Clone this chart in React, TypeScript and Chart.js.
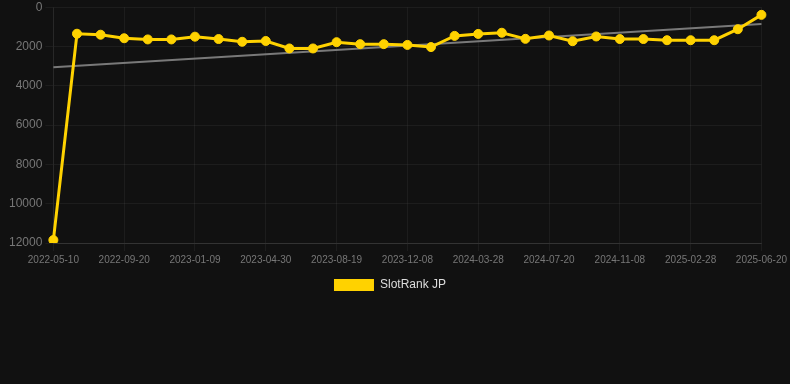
import React, { useEffect, useRef } from "react";
import { Chart, registerables } from "chart.js";

Chart.register(...registerables);

const dates = [
  "2022-05-10", "2022-06-23", "2022-08-06", "2022-09-20", "2022-10-27", "2022-12-03",
  "2023-01-09", "2023-02-15", "2023-03-24", "2023-04-30", "2023-06-06", "2023-07-13",
  "2023-08-19", "2023-09-25", "2023-11-01", "2023-12-08", "2024-01-14", "2024-02-20",
  "2024-03-28", "2024-05-04", "2024-06-12", "2024-07-20", "2024-08-26", "2024-10-02",
  "2024-11-08", "2024-12-15", "2025-01-21", "2025-02-28", "2025-04-06", "2025-05-13",
  "2025-06-20",
];

const slotRankJP = [
  11850, 1350, 1400, 1580, 1640, 1640, 1500, 1620, 1760, 1720, 2100, 2100,
  1780, 1880, 1880, 1920, 2030, 1460, 1360, 1300, 1610, 1440, 1730, 1490,
  1620, 1620, 1680, 1680, 1680, 1120, 390,
];

const trendStart = 3050;
const trendEnd = 860;

const yTicks = [0, 2000, 4000, 6000, 8000, 10000, 12000];

const FONT = "Liberation Sans, Arial, sans-serif";

export default function App() {
  const ref = useRef<HTMLCanvasElement | null>(null);

  useEffect(() => {
    document.body.style.margin = "0";
    document.body.style.background = "#111111";
    const trend = dates.map((_, i) =>
      i === 0 ? trendStart : i === dates.length - 1 ? trendEnd : null
    );
    const chart = new Chart(ref.current!, {
      type: "line",
      data: {
        labels: dates,
        datasets: [
          {
            label: "SlotRank JP",
            data: slotRankJP,
            borderColor: "#FFD200",
            backgroundColor: "#FFD200",
            borderWidth: 3,
            pointRadius: 4.5,
            pointBorderWidth: 1,
            pointHoverRadius: 4.5,
            pointBackgroundColor: "#FFD200",
            pointBorderColor: "#FFD200",
            tension: 0,
          },
          {
            label: "Trend",
            data: trend,
            borderColor: "rgba(140,140,140,0.85)",
            backgroundColor: "rgba(140,140,140,0.85)",
            borderWidth: 2,
            pointRadius: 0,
            spanGaps: true,
            tension: 0,
          },
        ],
      },
      options: {
        animation: false,
        responsive: false,
        maintainAspectRatio: false,
        layout: { padding: { left: 6, right: 16, top: 0, bottom: 0 } },
        plugins: {
          legend: {
            position: "bottom",
            labels: {
              color: "#dddddd",
              boxWidth: 40,
              boxHeight: 12,
              font: { family: FONT, size: 12 },
              generateLabels: () => [
                {
                  text: "SlotRank JP",
                  fillStyle: "#FFD200",
                  strokeStyle: "#FFD200",
                  lineWidth: 0,
                  hidden: false,
                  datasetIndex: 0,
                  fontColor: "#dddddd",
                },
              ],
            },
          },
          tooltip: { enabled: false },
        },
        scales: {
          x: {
            grid: { color: "rgba(255,255,255,0.05)" },
            border: { color: "rgba(255,255,255,0.1)" },
            ticks: {
              color: "#777777",
              autoSkip: true,
              maxTicksLimit: 11,
              maxRotation: 0,
              font: { family: FONT, size: 10 },
            },
          },
          y: {
            reverse: true,
            min: 0,
            max: 12000,
            afterBuildTicks: (axis) => {
              axis.ticks = yTicks.map((v) => ({ value: v }));
            },
            grid: { color: "rgba(255,255,255,0.05)" },
            border: { color: "rgba(255,255,255,0.05)" },
            ticks: {
              color: "#777777",
              font: { family: FONT, size: 12 },
              callback: (v) => String(v),
            },
          },
        },
      },
    });
    return () => chart.destroy();
  }, []);

  return (
    <div style={{ width: 790, height: 384, background: "#111111", overflow: "hidden" }}>
      <canvas
        ref={ref}
        width={790}
        height={304}
        style={{ display: "block", marginTop: -3 }}
      />
    </div>
  );
}
